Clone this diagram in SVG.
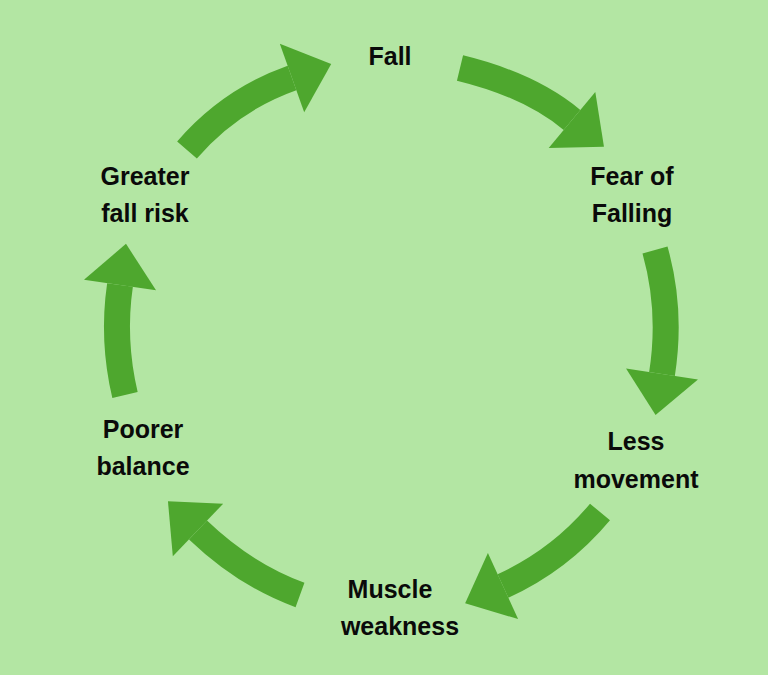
<svg xmlns="http://www.w3.org/2000/svg" width="768" height="675" viewBox="0 0 768 675">
<style>
.t{font-family:"Liberation Sans",Arial,sans-serif;font-weight:bold;font-size:25px;fill:#0a0a0a;text-anchor:middle}
.a{fill:none;stroke:#4ea72e;stroke-width:26;marker-end:url(#h)}
</style>
<defs>
<marker id="h" viewBox="0 -1.5 1.7 3" markerWidth="1.7" markerHeight="3" refX="0" refY="0" orient="auto" overflow="visible">
<path d="M0,-1.4 L1.6,0 L0,1.4 z" fill="#4ea72e"/>
</marker>
</defs>
<rect width="768" height="675" fill="#b3e6a3"/>
<g id="connectors">
<path class="a" d="M187,150 Q230,100 292,78"/>
<path class="a" d="M460,68 Q530,85 572,120"/>
<path class="a" d="M655,250 Q672,310 662,374"/>
<path class="a" d="M600,512 Q560,560 503,586"/>
<path class="a" d="M300,595 Q245,575 198,530"/>
<path class="a" d="M125,395 Q112,340 120,285"/>
</g>
<g id="fall"><text class="t" x="390" y="65">Fall</text></g>
<g id="fear"><text class="t" x="632" y="185">Fear of</text><text class="t" x="632" y="222">Falling</text></g>
<g id="less"><text class="t" x="636" y="450">Less</text><text class="t" x="636" y="488">movement</text></g>
<g id="muscle"><text class="t" x="390" y="598">Muscle</text><text class="t" x="400" y="635">weakness</text></g>
<g id="poorer"><text class="t" x="143" y="438">Poorer</text><text class="t" x="143" y="475">balance</text></g>
<g id="greater"><text class="t" x="145" y="185">Greater</text><text class="t" x="145" y="222">fall risk</text></g>
</svg>
